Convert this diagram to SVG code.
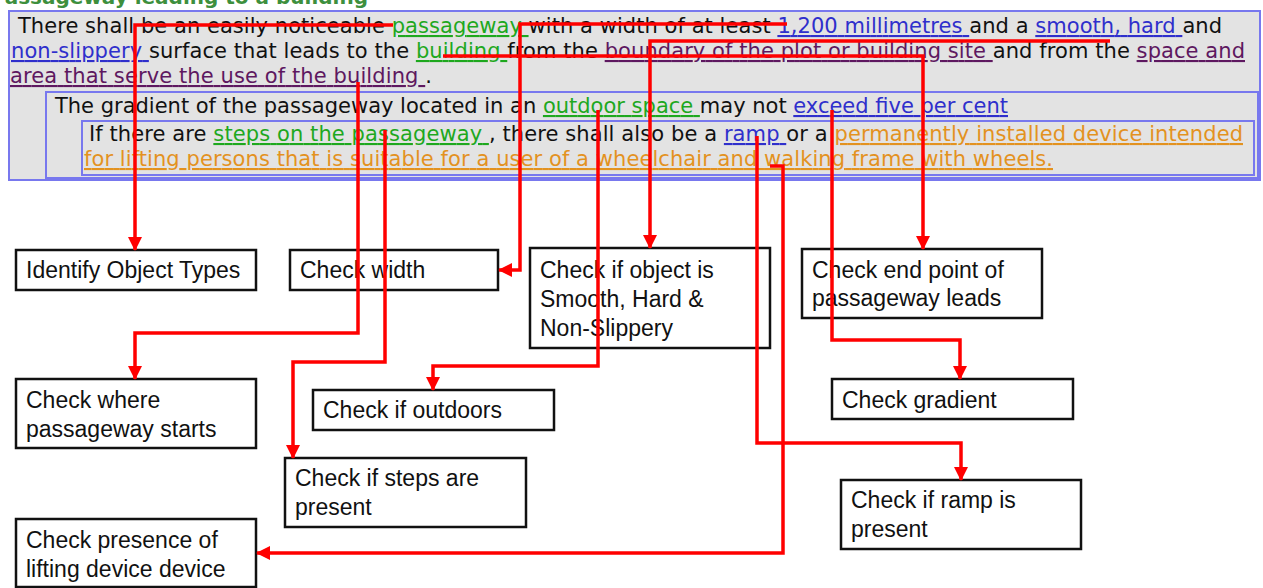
<svg xmlns="http://www.w3.org/2000/svg" width="1263" height="588" viewBox="0 0 1263 588">
<defs>
<style>
.t{font-family:"DejaVu Sans",Verdana,sans-serif;font-size:21px;fill:#111}
.g{fill:#1ea81e;text-decoration-line:underline;text-decoration-style:dotted}
.b{fill:#2f2fcc;text-decoration-line:underline;text-decoration-style:solid}
.p{fill:#5e1860;text-decoration-line:underline;text-decoration-style:dotted}
.o{fill:#e3921f;text-decoration-line:underline;text-decoration-style:double}
.frame{fill:none;stroke:#7878ee;stroke-width:2}
.box{fill:#fff;stroke:#111;stroke-width:2.5}
.lbl{font-family:"Liberation Sans",Arial,sans-serif;font-size:23px;fill:#111}
.c{fill:none;stroke:#ff0000;stroke-width:3.5;stroke-linejoin:miter}
.ca{marker-end:url(#ah)}
</style>
<marker id="ah" markerUnits="userSpaceOnUse" viewBox="0 0 14 14" markerWidth="14" markerHeight="14" refX="13" refY="7" orient="auto">
<path d="M0,0 L14,7 L0,14 Z" fill="#ff0000"/>
</marker>
</defs>

<g id="rule-text">
<text x="368" y="4" text-anchor="end" style="font-family:'DejaVu Sans',sans-serif;font-weight:bold;font-size:20px;fill:#3d8f3d">Passageway leading to a building</text>
<rect x="9" y="11" width="1251" height="169" fill="#e3e3e3" class="frame" style="fill:#e3e3e3"/>
<rect x="46" y="92" width="1212" height="86" class="frame"/>
<rect x="82" y="121" width="1172" height="54" class="frame"/>
<text class="t" x="18" y="33" textLength="1204" lengthAdjust="spacing">There shall be an easily noticeable <tspan class="g">passageway </tspan>with a width of at least <tspan class="b">1,200 millimetres </tspan>and a <tspan class="b">smooth, hard </tspan>and</text>
<text class="t" x="11" y="58" textLength="1234" lengthAdjust="spacing"><tspan class="b">non-slippery </tspan>surface that leads to the <tspan class="g">building </tspan>from the <tspan class="p">boundary of the plot or building site </tspan>and from the <tspan class="p">space and</tspan></text>
<text class="t" x="10" y="83" textLength="422" lengthAdjust="spacing"><tspan class="p">area that serve the use of the building </tspan>.</text>
<text class="t" x="55" y="113" textLength="953" lengthAdjust="spacing">The gradient of the passageway located in an <tspan class="g">outdoor space </tspan>may not <tspan class="b">exceed five per cent</tspan></text>
<text class="t" x="89" y="141" textLength="1154" lengthAdjust="spacing">If there are <tspan class="g">steps on the passageway </tspan>, there shall also be a <tspan class="b">ramp </tspan>or a <tspan class="o">permanently installed device intended</tspan></text>
<text class="t" x="84" y="166" textLength="969" lengthAdjust="spacing"><tspan class="o">for lifting persons that is suitable for a user of a wheelchair and walking frame with wheels.</tspan></text>
</g>

<g id="n-identify"><rect class="box" x="16" y="250" width="240" height="40"/><text class="lbl" x="26" y="278">Identify Object Types</text></g>
<g id="n-width"><rect class="box" x="290" y="250" width="208" height="40"/><text class="lbl" x="300" y="278">Check width</text></g>
<g id="n-surface"><rect class="box" x="530" y="248" width="240" height="100"/><text class="lbl" x="540" y="278">Check if object is</text><text class="lbl" x="540" y="307">Smooth, Hard &amp;</text><text class="lbl" x="540" y="336">Non-Slippery</text></g>
<g id="n-endpoint"><rect class="box" x="802" y="249" width="240" height="69"/><text class="lbl" x="812" y="278">Check end point of</text><text class="lbl" x="812" y="306">passageway leads</text></g>
<g id="n-start"><rect class="box" x="16" y="379" width="240" height="69"/><text class="lbl" x="26" y="408">Check where</text><text class="lbl" x="26" y="437">passageway starts</text></g>
<g id="n-outdoors"><rect class="box" x="313" y="390" width="241" height="40"/><text class="lbl" x="323" y="418">Check if outdoors</text></g>
<g id="n-gradient"><rect class="box" x="832" y="379" width="241" height="40"/><text class="lbl" x="842" y="408">Check gradient</text></g>
<g id="n-steps"><rect class="box" x="285" y="458" width="241" height="69"/><text class="lbl" x="295" y="486">Check if steps are</text><text class="lbl" x="295" y="515">present</text></g>
<g id="n-ramp"><rect class="box" x="841" y="480" width="240" height="69"/><text class="lbl" x="851" y="508">Check if ramp is</text><text class="lbl" x="851" y="537">present</text></g>
<g id="n-lifting"><rect class="box" x="16" y="519" width="240" height="68"/><text class="lbl" x="26" y="548">Check presence of</text><text class="lbl" x="26" y="577">lifting device device</text></g>

<g id="connectors">
<path class="c ca" d="M393,25 H135 V250"/>
<path class="c ca" d="M787,24 H520 V270 H499"/>
<path class="c ca" d="M1110,41 H650 V248"/>
<path class="c ca" d="M443,56 H923 V249"/>
<path class="c ca" d="M358,82 V333 H135 V379"/>
<path class="c ca" d="M385,130 V362 H293 V458"/>
<path class="c ca" d="M598,110 V366 H433 V390"/>
<path class="c ca" d="M832,110 V340 H960 V379"/>
<path class="c ca" d="M757,136 V443 H961 V480"/>
<path class="c ca" d="M770,166 H783 V553 H257"/>
</g>
</svg>
